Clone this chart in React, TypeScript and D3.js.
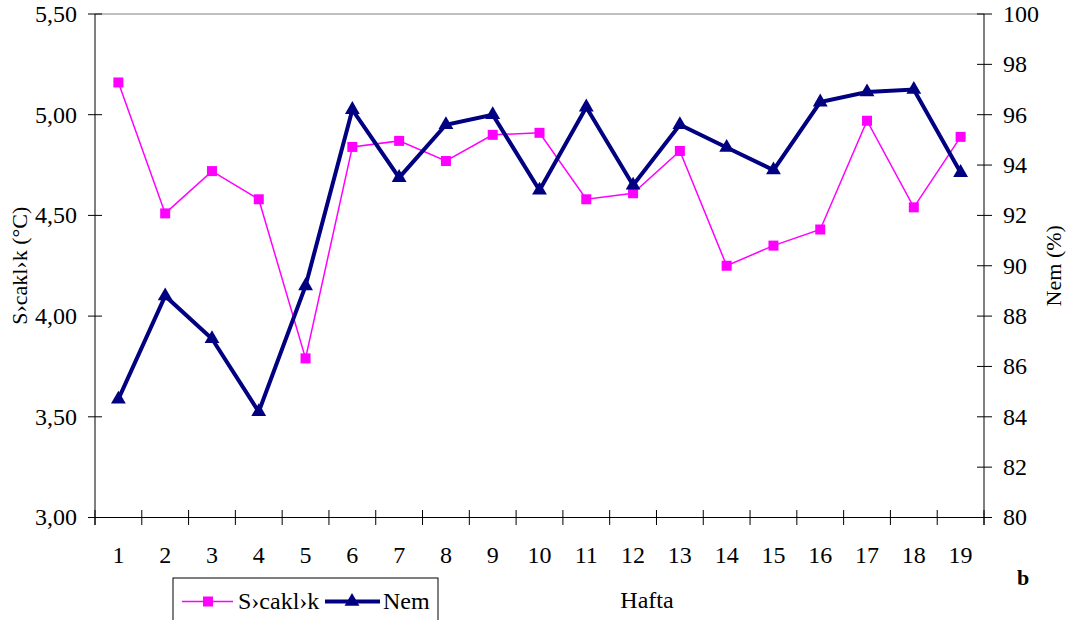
import React from "react";
import * as d3 from "d3";

const weeks = ["1","2","3","4","5","6","7","8","9","10","11","12","13","14","15","16","17","18","19"];
const sicaklik = [5.16, 4.51, 4.72, 4.58, 3.79, 4.84, 4.87, 4.77, 4.90, 4.91, 4.58, 4.61, 4.82, 4.25, 4.35, 4.43, 4.97, 4.54, 4.89];
const nem = [84.7, 88.8, 87.1, 84.2, 89.2, 96.2, 93.5, 95.6, 96.0, 93.0, 96.3, 93.2, 95.6, 94.7, 93.8, 96.5, 96.9, 97.0, 93.7];
const leftTicks = [3.0, 3.5, 4.0, 4.5, 5.0, 5.5];
const rightTicks = [80, 82, 84, 86, 88, 90, 92, 94, 96, 98, 100];

const FONT = "Liberation Serif, Times New Roman, DejaVu Serif, serif";
const PINK = "#FF00FF";
const NAVY = "#000080";
const ts = { fontFamily: FONT };

export default function App() {
  const W = 1075, H = 620;
  const L = 95, R = 984, T = 14, B = 517.5;
  const x = d3.scaleBand<string>().domain(weeks).range([L, R]).padding(0);
  const cx = (w: string) => (x(w) as number) + x.bandwidth() / 2;
  const yL = d3.scaleLinear().domain([3, 5.5]).range([B, T]);
  const yR = d3.scaleLinear().domain([80, 100]).range([B, T]);

  const lineS = d3.line<number>().x((_, i) => cx(weeks[i])).y((d) => yL(d));
  const lineN = d3.line<number>().x((_, i) => cx(weeks[i])).y((d) => yR(d));
  const fmt = (v: number) => v.toFixed(2).replace(".", ",");
  const boundaries = [...weeks.map((w) => x(w) as number), R];
  const tri = d3.symbol().type(d3.symbolTriangle).size(95)();

  return (
    <svg width={W} height={H} style={{ position: "absolute", left: 0, top: 0, background: "#fff", fontFamily: FONT }}>
      <rect x={0} y={0} width={W} height={H} fill="#fff" />
      <line x1={L} x2={R} y1={T} y2={T} stroke="#808080" strokeWidth={1} />
      <line x1={L} x2={L} y1={T} y2={525} stroke="#000" strokeWidth={1} />
      <line x1={R} x2={R} y1={T} y2={525} stroke="#000" strokeWidth={1} />
      <line x1={88} x2={992} y1={B} y2={B} stroke="#000" strokeWidth={1} />
      {leftTicks.map((t) => (
        <g key={"l" + t}>
          <line x1={88} x2={102} y1={yL(t)} y2={yL(t)} stroke="#000" />
          <text style={ts} x={77} y={yL(t)} dy="0.33em" textAnchor="end" fontSize={24} fill="#000">{fmt(t)}</text>
        </g>
      ))}
      {rightTicks.map((t) => (
        <g key={"r" + t}>
          <line x1={977} x2={992} y1={yR(t)} y2={yR(t)} stroke="#000" />
          <text style={ts} x={1003} y={yR(t)} dy="0.33em" textAnchor="start" fontSize={24} fill="#000">{t}</text>
        </g>
      ))}
      {boundaries.map((b, i) => (
        <line key={"b" + i} x1={b} x2={b} y1={510} y2={525} stroke="#000" />
      ))}
      {weeks.map((w) => (
        <text style={ts} key={"x" + w} x={cx(w)} y={563} textAnchor="middle" fontSize={24} fill="#000">{w}</text>
      ))}
      <text style={ts} transform={`translate(27,${(T + B) / 2}) rotate(-90)`} textAnchor="middle" fontSize={22} fill="#000">S›cakl›k (°C)</text>
      <text style={ts} transform={`translate(1061,${(T + B) / 2}) rotate(-90)`} textAnchor="middle" fontSize={22} fill="#000">Nem (%)</text>
      <text style={ts} x={647} y={608} textAnchor="middle" fontSize={24} fill="#000">Hafta</text>
      <text style={ts} x={1023} y={585} textAnchor="middle" fontSize={22} fontWeight="bold" fill="#000">b</text>

      <path d={lineS(sicaklik) as string} fill="none" stroke={PINK} strokeWidth={1.5} />
      {sicaklik.map((v, i) => (
        <rect key={"s" + i} x={cx(weeks[i]) - 5} y={yL(v) - 5} width={10} height={10} fill={PINK} />
      ))}
      <path d={lineN(nem) as string} fill="none" stroke={NAVY} strokeWidth={4} strokeLinejoin="miter" />
      {nem.map((v, i) => (
        <path key={"n" + i} d={tri as string} transform={`translate(${cx(weeks[i])},${yR(v)})`} fill={NAVY} />
      ))}

      <rect x={173} y={578} width={265} height={60} fill="#fff" stroke="#000" strokeWidth={1} />
      <line x1={182} x2={233} y1={601.5} y2={601.5} stroke={PINK} strokeWidth={1.5} />
      <rect x={203} y={596.5} width={10} height={10} fill={PINK} />
      <text style={ts} x={238} y={609} fontSize={24} fill="#000">S›cakl›k</text>
      <line x1={325} x2={380} y1={601.5} y2={601.5} stroke={NAVY} strokeWidth={4} />
      <path d={tri as string} transform={`translate(352,601.5)`} fill={NAVY} />
      <text style={ts} x={383} y={609} fontSize={24} fill="#000">Nem</text>
    </svg>
  );
}
